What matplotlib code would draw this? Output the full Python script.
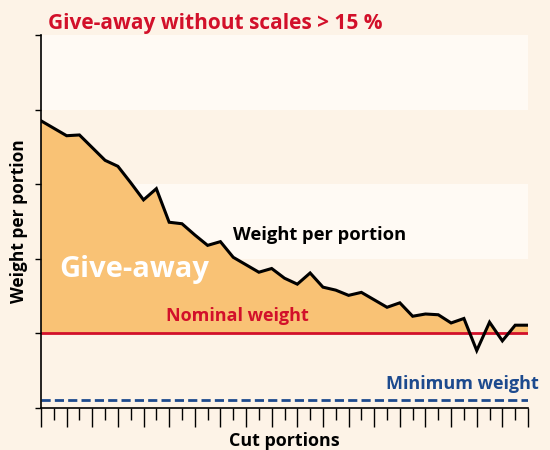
import numpy as np
import matplotlib
matplotlib.use("Agg")
from matplotlib import pyplot as plt

# Cut portions (index) and measured weight per portion (nominal weight = 1.0)
portions = np.arange(39)
weights = [3.85, 3.75, 3.65, 3.66, 3.49, 3.32, 3.24, 3.02, 2.79, 2.94,
           2.49, 2.47, 2.32, 2.18, 2.23, 2.02, 1.92, 1.82, 1.87, 1.74,
           1.66, 1.81, 1.62, 1.58, 1.51, 1.55, 1.45, 1.35, 1.41, 1.23,
           1.26, 1.25, 1.14, 1.20, 0.77, 1.15, 0.90, 1.11, 1.11]
nominal_weight = 1.0
minimum_weight = 0.11
y_ticks = [0, 1, 2, 3, 4, 5]

BG = '#fdf3e7'
BAND = '#fffaf4'
FILL = '#f9c275'
RED = '#d2102a'
BLUE = '#1d4a8e'

plt.rcParams['font.family'] = ['Open Sans', 'DejaVu Sans']

fig = plt.figure(figsize=(5.5, 4.5), dpi=100, facecolor=BG)
ax = fig.add_axes([41 / 550, 1 - 408 / 450, 487 / 550, 373 / 450])
ax.set_facecolor(BG)

# light background bands
for low, high in [(4, 5), (2, 3)]:
    ax.axhspan(low, high, color=BAND, lw=0, zorder=0)

ax.fill_between(portions, weights, nominal_weight,
                where=np.array(weights) >= nominal_weight,
                interpolate=True, color=FILL, lw=0, zorder=1)
ax.axhline(nominal_weight, color=RED, lw=2.0, zorder=2)
ax.axhline(minimum_weight, color=BLUE, lw=2.0, ls=(0, (3.3, 1.5)), zorder=2)
ax.plot(portions, weights, color='black', lw=2.2, zorder=3,
        solid_joinstyle='miter')

ax.set_xlim(0, 38)
ax.set_ylim(0, 5)
ax.set_yticks(y_ticks)
ax.set_yticklabels([])
ax.set_xticks(portions[::2])
ax.set_xticks(portions[1::2], minor=True)
ax.set_xticklabels([])
ax.tick_params(axis='x', which='major', direction='out', length=13.5,
               width=1.0, color='black')
ax.tick_params(axis='x', which='minor', direction='out', length=8.3,
               width=1.0, color='black')
ax.tick_params(axis='y', direction='out', length=4.5, width=1.0,
               color='black')
for side in ['top', 'right']:
    ax.spines[side].set_visible(False)
for side in ['left', 'bottom']:
    ax.spines[side].set_linewidth(1.2)

ax.set_xlabel('Cut portions', fontsize=12.9, fontweight='bold', labelpad=0)
ax.set_ylabel('Weight per portion', fontsize=12.5, fontweight='bold',
              labelpad=1)

fig.text(48 / 550, 1 - 23 / 450, 'Give-away without scales > 15 %',
         color=RED, fontsize=15, fontweight='bold', va='center')
ax.text(15.0, 2.32, 'Weight per portion', fontsize=13.2, fontweight='bold',
        va='center')
ax.text(1.4, 1.85, 'Give-away', color='white', fontsize=21,
        fontweight='bold', va='center')
ax.text(9.75, 1.23, 'Nominal weight', color=RED, fontsize=13,
        fontweight='bold', va='center')
ax.text(38.85, 0.32, 'Minimum weight', color=BLUE, fontsize=13,
        fontweight='bold', va='center', ha='right', clip_on=False)

fig.savefig('out.png', dpi=100, facecolor=BG)
